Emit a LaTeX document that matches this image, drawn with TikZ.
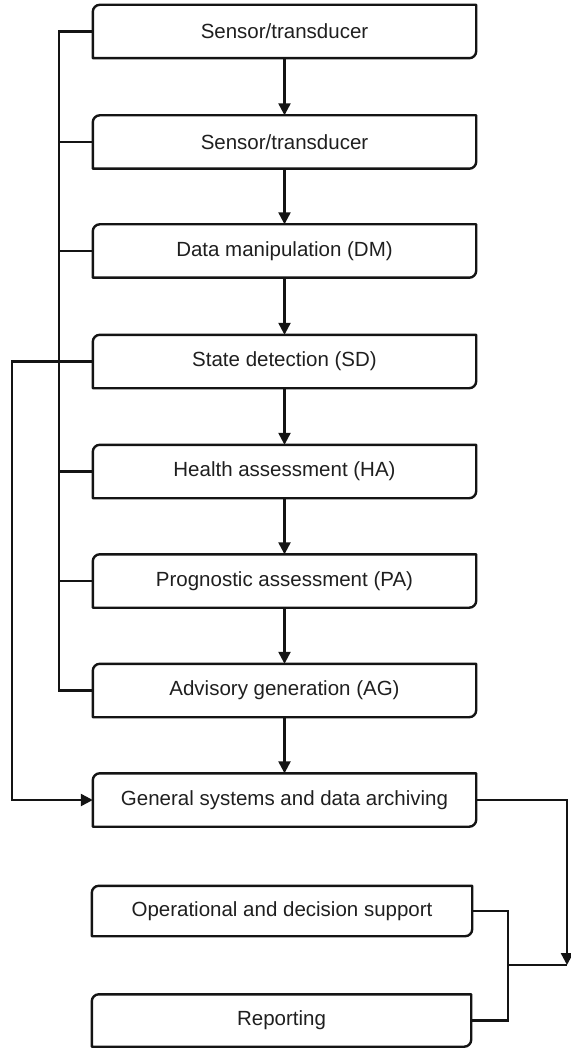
\documentclass[tikz,border=0pt]{standalone}
\usepackage{fontspec}
\setmainfont{Liberation Sans}
\usetikzlibrary{arrows.meta}

\tikzset{
  stage/.style={minimum width=383pt, minimum height=53pt, inner sep=0pt,
                font=\fontsize{20.5}{24}\selectfont, text=black!88},
  wire/.style={line width=2.4pt, black!92},
  flow/.style={wire, -{Triangle[length=12pt,width=12pt]}},
}

% outline with rounded top-left and bottom-right corners only
\newcommand\stageframe[1]{%
  \draw[wire, line join=round]
    (#1.south west) -- ([yshift=-7pt]#1.north west)
    arc[start angle=180, end angle=90, radius=7pt]
    -- (#1.north east) -- ([yshift=7pt]#1.south east)
    arc[start angle=0, end angle=-90, radius=7pt]
    -- cycle;}

\begin{document}
\begin{tikzpicture}[x=1pt,y=1pt]
\useasboundingbox (0,0) rectangle (570,-1048);

\node[stage] (s1)  at (284.5,-31.5) {Sensor/transducer};
\node[stage] (s2)  at (284.5,-142)  {Sensor/transducer};
\node[stage] (dm)  at (284.5,-251)  {Data manipulation (DM)};
\node[stage] (sd)  at (284.5,-361.5){State detection (SD)};
\node[stage] (ha)  at (284.5,-471.5){Health assessment (HA)};
\node[stage] (pa)  at (284.5,-581)  {Prognostic assessment (PA)};
\node[stage] (ag)  at (284.5,-690.5){Advisory generation (AG)};
\node[stage] (gs)  at (284.5,-800)  {General systems and data archiving};
\node[stage, minimum width=380pt, minimum height=50pt] (ods) at (282,-911) {Operational and decision support};
\node[stage, minimum width=379pt, minimum height=52pt] (rep) at (281.5,-1020.5) {Reporting};

\foreach \n in {s1,s2,dm,sd,ha,pa,ag,gs,ods,rep} {\stageframe{\n}}

% main chain
\foreach \a/\b in {s1/s2,s2/dm,dm/sd,sd/ha,ha/pa,pa/ag,ag/gs}
  \draw[flow] (\a.south) -- (\b.north);

% left bus tying the stages together
\coordinate (bt) at (59,-31.5);
\coordinate (bb) at (59,-690.5);
\draw[wire, line join=miter] (s1.west) -- (bt) -- (bb) -- (ag.west);
\foreach \n in {s2,dm,sd,ha,pa}
  \draw[wire] (\n.west) -- (\n.west -| bt);

% feedback from state detection to archiving
\coordinate (lo) at (12,-361.5);
\draw[flow, line join=miter] (sd.west) -- (lo) |- (gs.west);

% outputs to support and reporting
\coordinate (rt) at (567,-965);
\coordinate (jn) at (508,-965);
\draw[flow, line join=miter] (gs.east) -| (rt);
\draw[wire] (jn) -- (rt);
\draw[wire, line join=miter] (ods.east) -| (jn) |- (rep.east);
\end{tikzpicture}
\end{document}
